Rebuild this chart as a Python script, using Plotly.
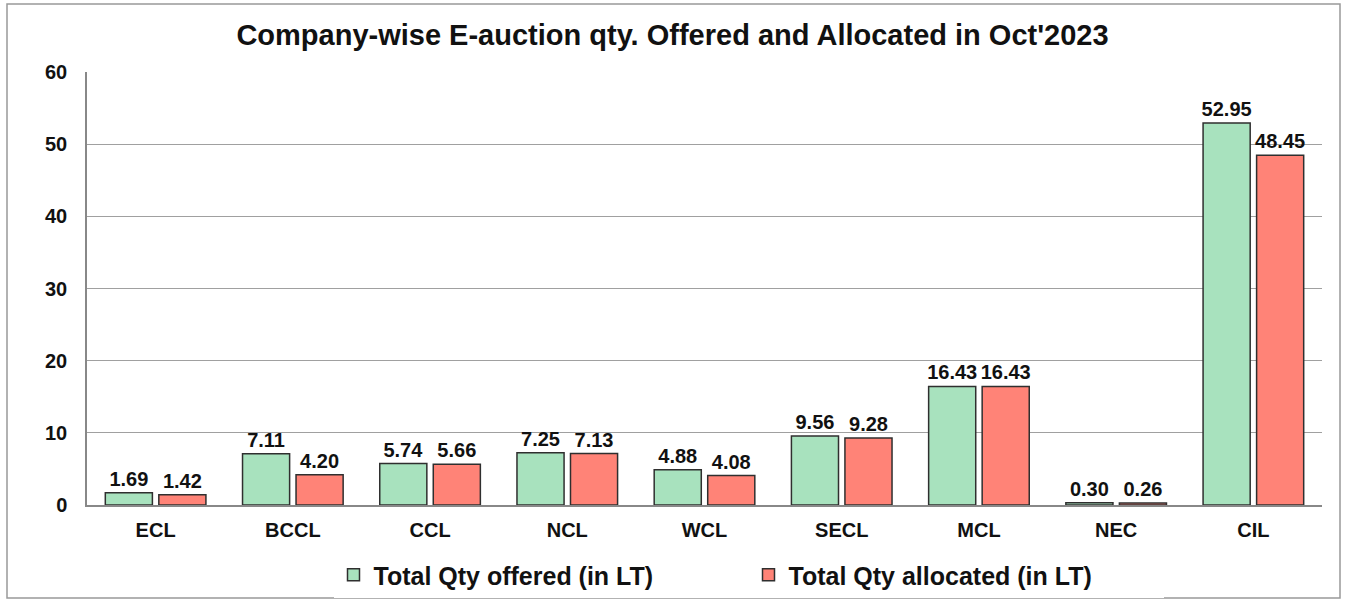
import plotly.graph_objects as go

companies = ["ECL", "BCCL", "CCL", "NCL", "WCL", "SECL", "MCL", "NEC", "CIL"]
offered = [1.69, 7.11, 5.74, 7.25, 4.88, 9.56, 16.43, 0.30, 52.95]
allocated = [1.42, 4.20, 5.66, 7.13, 4.08, 9.28, 16.43, 0.26, 48.45]
y_ticks = [0, 10, 20, 30, 40, 50, 60]

FONT = "Arial, Liberation Sans, sans-serif"

fig = go.Figure()
fig.add_trace(go.Bar(
    x=companies, y=offered, name="<b>Total Qty offered (in LT)</b>",
    marker=dict(color="#A8E2BE", line=dict(color="#2f2f2f", width=1.5)),
    texttemplate="<b>%{y:.2f}</b>", textposition="outside", cliponaxis=False,
    constraintext="none",
    textfont=dict(family=FONT, size=20, color="#111111"),
))
fig.add_trace(go.Bar(
    x=companies, y=allocated, name="<b>Total Qty allocated (in LT)</b>",
    marker=dict(color="#FF8377", line=dict(color="#2f2f2f", width=1.5)),
    texttemplate="<b>%{y:.2f}</b>", textposition="outside", cliponaxis=False,
    constraintext="none",
    textfont=dict(family=FONT, size=20, color="#111111"),
))

fig.update_layout(
    width=1345, height=602,
    margin=dict(l=87, r=23, t=72, b=97, autoexpand=False),
    paper_bgcolor="white", plot_bgcolor="white",
    title=dict(text="<b>Company-wise E-auction qty. Offered and Allocated in Oct'2023</b>",
               x=0.5, xanchor="center", xref="container", y=1 - 35 / 602, yanchor="middle",
               font=dict(family=FONT, size=29, color="#111111")),
    barmode="group", bargap=0.22, bargroupgap=0.12,
    font=dict(family=FONT, color="#111111"),
    legend=dict(orientation="h", x=0.5 + 76 / 1345, xanchor="center", xref="container",
                y=(602 - 575) / 602, yanchor="middle", yref="container",
                font=dict(family=FONT, size=25, color="#111111"),
                traceorder="normal", entrywidth=370, entrywidthmode="pixels"),
    showlegend=True,
)
fig.update_yaxes(range=[0, 60], tickvals=y_ticks, ticktext=[f"<b>{v}</b>" for v in y_ticks],
                 showgrid=True, gridcolor="#a0a0a0", gridwidth=1,
                 showline=True, linecolor="#888888", linewidth=1.5,
                 tickfont=dict(family=FONT, size=20, color="#111111"),
                 ticks="", zeroline=False, automargin=False, ticklabelstandoff=14)
fig.update_xaxes(tickvals=companies, ticktext=[f"<b>{c}</b>" for c in companies],
                 showline=True, linecolor="#888888", linewidth=1.5,
                 tickfont=dict(family=FONT, size=20, color="#111111"),
                 ticks="", automargin=False, ticklabelstandoff=6)
fig.add_shape(type="rect", xref="paper", yref="paper",
              x0=(7 - 87) / 1235, x1=(1340 - 87) / 1235, y0=(505 - 598) / 433, y1=(505 - 4) / 433,
              line=dict(color="#999999", width=1.5), fillcolor="rgba(0,0,0,0)", layer="below")
fig.write_html("out.html", config={"displayModeBar": False},
               post_script="document.body.style.margin='0';")
